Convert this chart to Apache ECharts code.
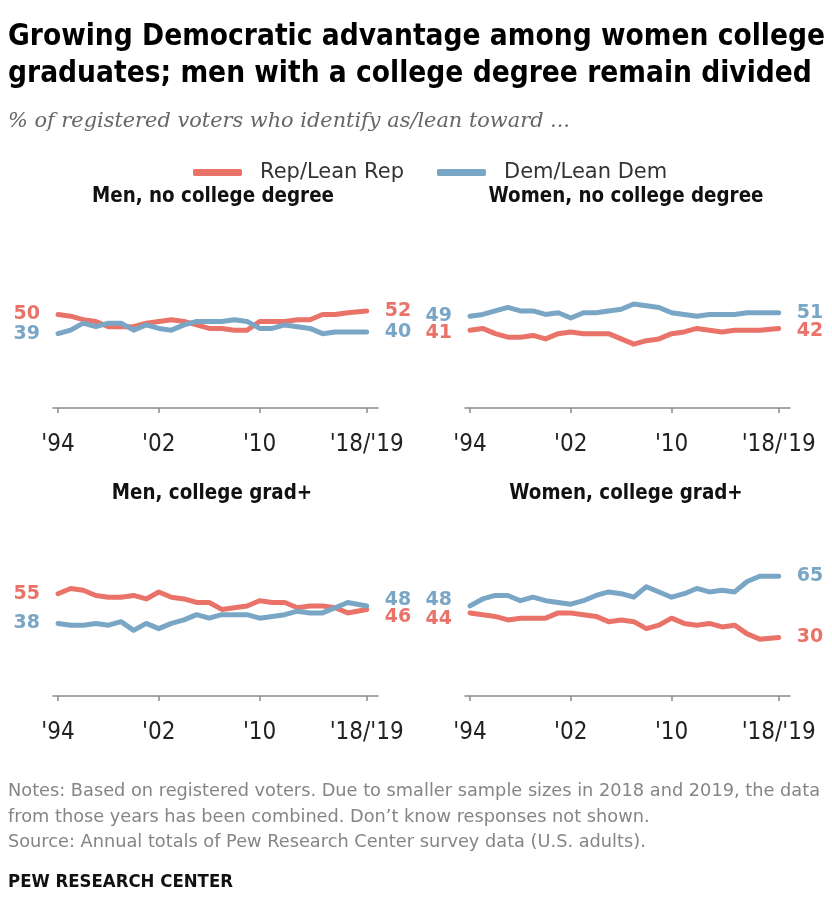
<!DOCTYPE html>
<html>
<head>
<meta charset="utf-8">
<script src="https://cdn.jsdelivr.net/npm/echarts@6/dist/echarts.min.js"></script>
<style>
  html, body { margin: 0; padding: 0; background: #fff; }
  #main { width: 832px; height: 924px; }
</style>
</head>
<body>
<div id="main"></div>
<script>
// years: 1994-2017, then 2018/2019 combined (plotted half way)
var years = [1994, 1995, 1996, 1997, 1998, 1999, 2000, 2001, 2002, 2003, 2004, 2005,
  2006, 2007, 2008, 2009, 2010, 2011, 2012, 2013, 2014, 2015, 2016, 2017, 2018.5];
var tickYears = [1994, 2002, 2010, 2018.5];
var tickLabels = ["'94", "'02", "'10", "'18/'19"];

// Men, no college degree
var menNoColRep = [50, 49, 47, 46, 43, 43, 43, 45, 46, 47, 46, 44, 42, 42, 41, 41, 46, 46, 46, 47, 47, 50, 50, 51, 52];
var menNoColDem = [39, 41, 45, 43, 45, 45, 41, 44, 42, 41, 44, 46, 46, 46, 47, 46, 42, 42, 44, 43, 42, 39, 40, 40, 40];
// Women, no college degree
var womenNoColRep = [41, 42, 39, 37, 37, 38, 36, 39, 40, 39, 39, 39, 36, 33, 35, 36, 39, 40, 42, 41, 40, 41, 41, 41, 42];
var womenNoColDem = [49, 50, 52, 54, 52, 52, 50, 51, 48, 51, 51, 52, 53, 56, 55, 54, 51, 50, 49, 50, 50, 50, 51, 51, 51];
// Men, college grad+
var menGradRep = [55, 58, 57, 54, 53, 53, 54, 52, 56, 53, 52, 50, 50, 46, 47, 48, 51, 50, 50, 47, 48, 48, 47, 44, 46];
var menGradDem = [38, 37, 37, 38, 37, 39, 34, 38, 35, 38, 40, 43, 41, 43, 43, 43, 41, 42, 43, 45, 44, 44, 47, 50, 48];
// Women, college grad+
var womenGradRep = [44, 43, 42, 40, 41, 41, 41, 44, 44, 43, 42, 39, 40, 39, 35, 37, 41, 38, 37, 38, 36, 37, 32, 29, 30];
var womenGradDem = [48, 52, 54, 54, 51, 53, 51, 50, 49, 51, 54, 56, 55, 53, 59, 56, 53, 55, 58, 56, 57, 56, 62, 65, 65];

var REP = '#EA7369';
var DEM = '#7AA6C6';
var SANS = "'DejaVu Sans', sans-serif";
var COND = "'DejaVu Sans Condensed', 'DejaVu Sans', sans-serif";

// panel layout; offsets nudge the start/end labels apart where lines meet
var panels = [
  { name: 'Men, no college degree', rep: menNoColRep, dem: menNoColDem, left: 53, top: 227,
    cx: 213, ty: 196, repOff: [0, 0], demOff: [0, 0] },
  { name: 'Women, no college degree', rep: womenNoColRep, dem: womenNoColDem, left: 465, top: 227,
    cx: 626, ty: 196, repOff: [3, 3], demOff: [0, 0] },
  { name: 'Men, college grad+', rep: menGradRep, dem: menGradDem, left: 53, top: 515,
    cx: 212, ty: 493, repOff: [0, 8], demOff: [0, -6] },
  { name: 'Women, college grad+', rep: womenGradRep, dem: womenGradDem, left: 465, top: 515,
    cx: 626, ty: 493, repOff: [6, 0], demOff: [-6, 0] }
];

// horizontal stretch needed so a text fills the width it has in the original
var ctx = document.createElement('canvas').getContext('2d');
function fitScale(text, font, width) {
  ctx.font = font;
  return width / ctx.measureText(text).width;
}

function buildData(vals, off) {
  return vals.map(function (v, i) {
    var item = { value: [years[i], v] };
    if (i === 0) item.label = { show: true, position: 'left', offset: [0, off[0]] };
    if (i === vals.length - 1) item.label = { show: true, position: 'right', offset: [0, off[1]] };
    return item;
  });
}

function lineSeries(name, color, vals, idx, off) {
  return {
    name: name,
    type: 'line',
    xAxisIndex: idx,
    yAxisIndex: idx,
    data: buildData(vals, off),
    showSymbol: true,
    symbol: 'circle',
    symbolSize: 0,
    silent: true,
    itemStyle: { color: color },
    lineStyle: { color: color, width: 5, cap: 'round', join: 'round' },
    label: {
      show: false,
      distance: 18,
      color: color,
      fontSize: 19,
      fontWeight: 'bold',
      fontFamily: SANS,
      formatter: function (p) { return p.value[1]; }
    },
    emphasis: { disabled: true }
  };
}

function text(str, x, y, font, fill, width, align) {
  return {
    type: 'text', x: x, y: y, silent: true,
    scaleX: width ? fitScale(str, font, width) : 1,
    style: { text: str, font: font, fill: fill, textAlign: align || 'left', textVerticalAlign: 'middle' }
  };
}

var grids = [], xAxes = [], yAxes = [], series = [], texts = [];
var panelFont = 'bold 22px ' + SANS;
var panelScale = fitScale(panels[0].name, panelFont, 242);
panels.forEach(function (p, i) {
  grids.push({ left: p.left, top: p.top, width: 325, height: 181 });
  xAxes.push({
    type: 'value', gridIndex: i, min: 1993.6, max: 2019.4,
    splitLine: { show: false },
    axisLine: { show: true, onZero: false, lineStyle: { color: '#8a8a8a', width: 1.5 } },
    axisTick: { show: true, customValues: tickYears, length: 5, lineStyle: { color: '#8a8a8a', width: 1.5 } },
    axisLabel: {
      customValues: tickYears,
      formatter: function (v) { return tickLabels[tickYears.indexOf(v)]; },
      fontSize: 24, color: '#222', margin: 25, fontFamily: COND
    }
  });
  yAxes.push({ type: 'value', gridIndex: i, min: -3.5, max: 100, show: false });
  series.push(lineSeries('Rep/Lean Rep', REP, p.rep, i, p.repOff));
  series.push(lineSeries('Dem/Lean Dem', DEM, p.dem, i, p.demOff));
  var t = text(p.name, p.cx, p.ty, panelFont, '#111', 0, 'center');
  t.scaleX = panelScale;
  texts.push(t);
});

// headline, subtitle and footer
var titleFont = 'bold 30px ' + SANS;
var title1 = 'Growing Democratic advantage among women college';
var title2 = 'graduates; men with a college degree remain divided';
var titleScale = fitScale(title1, titleFont, 817);
var h1 = text(title1, 8, 37.5, titleFont, '#000'); h1.scaleX = titleScale;
var h2 = text(title2, 8, 74.5, titleFont, '#000'); h2.scaleX = titleScale;
texts.push(h1, h2);
texts.push(text('% of registered voters who identify as/lean toward ...', 8, 122,
  'italic 20px DejaVu Serif', '#666', 562));

var footLines = [
  'Notes: Based on registered voters. Due to smaller sample sizes in 2018 and 2019, the data',
  'from those years has been combined. Don\u2019t know responses not shown.',
  'Source: Annual totals of Pew Research Center survey data (U.S. adults).'
];
var footFont = '18px ' + SANS;
var footScale = fitScale(footLines[0], footFont, 812);
footLines.forEach(function (s, i) {
  var t = text(s, 8, 791.5 + i * 25.5, footFont, '#858585');
  t.scaleX = footScale;
  texts.push(t);
});
texts.push(text('PEW RESEARCH CENTER', 8, 882.5, 'bold 18px ' + SANS, '#111', 225));

var chart = echarts.init(document.getElementById('main'));
chart.setOption({
  backgroundColor: '#fff',
  animation: false,
  legend: {
    left: 193, top: 162, padding: 0,
    data: ['Rep/Lean Rep', 'Dem/Lean Dem'],
    icon: 'roundRect',
    itemWidth: 49, itemHeight: 7, itemGap: 33,
    selectedMode: false,
    textStyle: { fontSize: 21, color: '#333', fontFamily: SANS, padding: [0, 0, 0, 13] }
  },
  grid: grids,
  xAxis: xAxes,
  yAxis: yAxes,
  series: series,
  graphic: texts
});
</script>
</body>
</html>
